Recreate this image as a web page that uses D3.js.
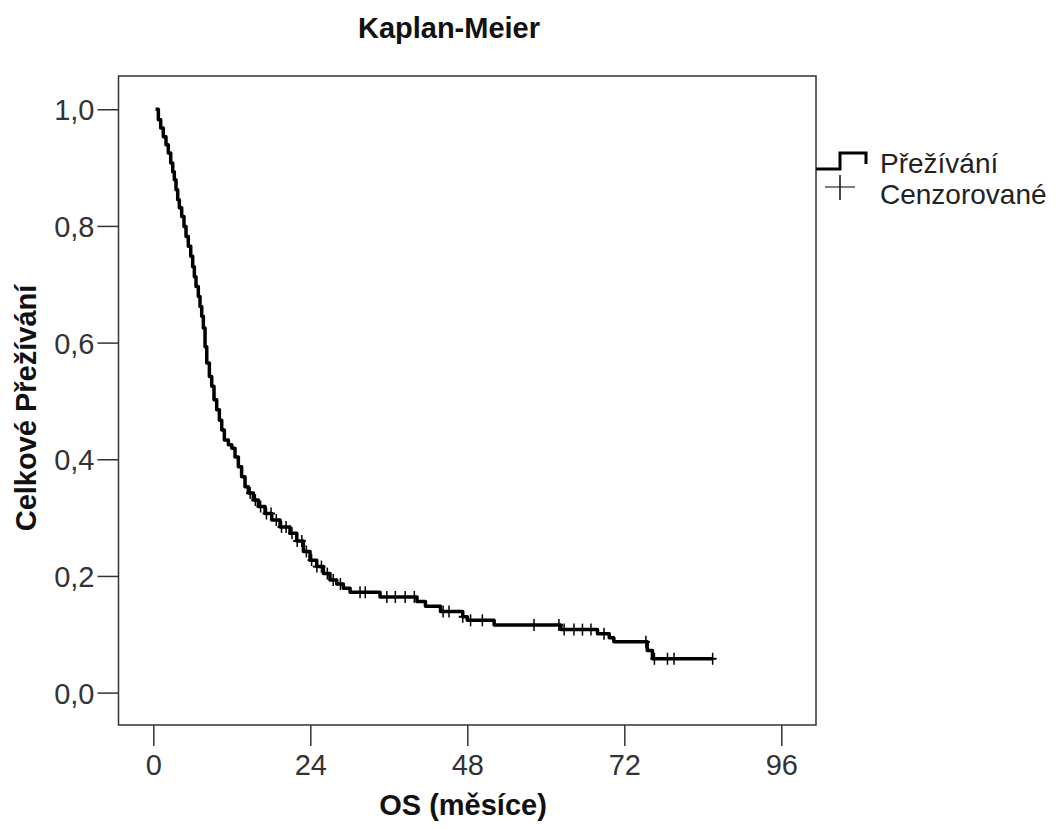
<!DOCTYPE html>
<html>
<head>
<meta charset="utf-8">
<script src="https://cdn.jsdelivr.net/npm/d3@7"></script>
<style>
  body { margin: 0; background: #fff; }
  text { font-family: "Liberation Sans", Arial, sans-serif; }
</style>
</head>
<body>
<script>
// Kaplan-Meier Werte (Monate, Überleben)
var times = [0.35, 0.77, 1.13, 1.53, 1.94, 2.29, 2.66, 2.97, 3.21, 3.47, 3.73, 3.98, 4.34, 4.69, 5.0, 5.35, 5.72, 6.02, 6.27, 6.53,
    6.88, 7.14, 7.4, 7.65, 7.91, 8.17, 8.57, 8.93, 9.28, 9.69, 10.1, 10.46, 10.86, 11.47, 11.99, 12.49, 13.0, 13.5, 14.02, 14.53,
    15.29, 16.06, 17.08, 18.1, 19.37, 20.9, 21.93, 22.94, 23.96, 24.98, 26.0, 27.0, 28.04, 29.05, 30.08, 34.66, 40.3, 41.6, 43.9,
    47.3, 48.0, 52.1, 62.3, 67.9, 69.7, 70.4, 75.5, 76.3, 85.5]
var surv = [1.0, 0.982, 0.968, 0.953, 0.939, 0.925, 0.908, 0.893, 0.879, 0.862, 0.845, 0.831, 0.816, 0.799, 0.782, 0.765, 0.748, 0.73, 0.713, 0.696,
    0.679, 0.662, 0.645, 0.625, 0.593, 0.565, 0.542, 0.525, 0.502, 0.485, 0.467, 0.45, 0.433, 0.425, 0.419, 0.404, 0.387, 0.37, 0.353, 0.342,
    0.33, 0.319, 0.307, 0.296, 0.284, 0.273, 0.26, 0.242, 0.227, 0.216, 0.204, 0.193, 0.186, 0.179, 0.172, 0.164, 0.156, 0.148, 0.139,
    0.13, 0.124, 0.116, 0.108, 0.101, 0.094, 0.087, 0.072, 0.058, 0.058]

// zensierte Fälle
var censored = [14.8, 15.6, 16.4, 17.3, 18.0, 18.8, 19.6, 20.3, 21.2, 22.0, 22.7, 23.4, 24.2, 25.0, 25.7, 26.6, 27.5, 28.6,
    31.6, 32.4, 35.7, 37.0, 38.5, 39.9, 44.3, 45.2, 47.3, 48.5, 50.3, 58.2, 62.0, 62.8, 64.3, 65.6, 66.9, 68.9,
    75.3, 76.6, 78.6, 79.6, 85.5]

var xTicks = [0, 24, 48, 72, 96]
var yTicks = [0, 0.2, 0.4, 0.6, 0.8, 1.0]
var legendLabels = ["Přežívání", "Cenzorované"]

var data = times.map((t, i) => { return {t: t, s: surv[i]} })

const width = 1062
const height = 830
var pLeft = 118.5, pRight = 816, pTop = 76, pBottom = 725

var svg = d3.select("body").append("svg")
    .attr("width", width)
    .attr("height", height)

var x = d3.scaleLinear()
    .domain([-5.32, 101.3])
    .range([pLeft, pRight])

var y = d3.scaleLinear()
    .domain([-0.0555, 1.057])
    .range([pBottom, pTop])

// Rahmen
svg.append("rect")
    .attr("x", pLeft)
    .attr("y", pTop)
    .attr("width", pRight - pLeft)
    .attr("height", pBottom - pTop)
    .attr("fill", "none")
    .attr("stroke", "#333")
    .attr("stroke-width", 1.5)

// x-Achse
var xAxis = svg.append("g")
    .attr("transform", "translate(0," + pBottom + ")")
    .call(d3.axisBottom(x).tickValues(xTicks).tickSize(21).tickPadding(8).tickFormat(d3.format("d")))
xAxis.select(".domain").remove()
xAxis.selectAll("line").attr("stroke", "#333").attr("stroke-width", 1.5)
xAxis.selectAll("text")
    .attr("fill", "#333")
    .style("font-size", "29px")
    .style("font-family", "'Liberation Sans', Arial, sans-serif")

// y-Achse
var yAxis = svg.append("g")
    .attr("transform", "translate(" + pLeft + ",0)")
    .call(d3.axisLeft(y).tickValues(yTicks).tickSize(21).tickPadding(3)
        .tickFormat((d) => { return d3.format(".1f")(d).replace(".", ",") }))
yAxis.select(".domain").remove()
yAxis.selectAll("line").attr("stroke", "#333").attr("stroke-width", 1.5)
yAxis.selectAll("text")
    .attr("fill", "#333")
    .attr("dy", "0.36em")
    .style("font-size", "29px")
    .style("font-family", "'Liberation Sans', Arial, sans-serif")

// Kurve
var line = d3.line()
    .x((d) => { return x(d.t) })
    .y((d) => { return y(d.s) })
    .curve(d3.curveStepAfter)

svg.append("path")
    .datum(data)
    .attr("d", line)
    .attr("fill", "none")
    .attr("stroke", "#000")
    .attr("stroke-width", 3.5)
    .attr("stroke-linejoin", "round")

// Zensierungs-Kreuze
var bisect = d3.bisector((d) => { return d.t }).right
var survAt = (t) => {
    var i = bisect(data, t) - 1
    return data[Math.max(0, i)].s
}

var marks = svg.append("g")
    .selectAll("g")
    .data(censored)
    .enter()
    .append("g")
        .attr("transform", (d) => { return "translate(" + x(d) + "," + y(survAt(d)) + ")" })
marks.append("line")
    .attr("x1", 0).attr("x2", 0).attr("y1", -6).attr("y2", 6)
    .attr("stroke", "#000").attr("stroke-width", 1.5)
marks.append("line")
    .attr("x1", -4).attr("x2", 4).attr("y1", 0).attr("y2", 0)
    .attr("stroke", "#000").attr("stroke-width", 2)

// Titel und Achsentitel
svg.append("text")
    .attr("x", 449)
    .attr("y", 38)
    .attr("text-anchor", "middle")
    .style("font-size", "29px")
    .style("font-weight", "bold")
    .attr("fill", "#111")
    .text("Kaplan-Meier")

svg.append("text")
    .attr("x", 463)
    .attr("y", 815)
    .attr("text-anchor", "middle")
    .style("font-size", "29px")
    .style("font-weight", "bold")
    .attr("fill", "#111")
    .text("OS (měsíce)")

svg.append("text")
    .attr("transform", "translate(36,408) rotate(-90)")
    .attr("text-anchor", "middle")
    .style("font-size", "29px")
    .style("font-weight", "bold")
    .attr("fill", "#111")
    .text("Celkové Přežívání")

// Legende
var legend = svg.append("g")
legend.append("path")
    .attr("d", "M" + pRight + ",169 H840 V153 H866 V164")
    .attr("fill", "none")
    .attr("stroke", "#000")
    .attr("stroke-width", 3)
legend.append("line")
    .attr("x1", 825).attr("x2", 855).attr("y1", 187).attr("y2", 187)
    .attr("stroke", "#555").attr("stroke-width", 1.5)
legend.append("line")
    .attr("x1", 840).attr("x2", 840).attr("y1", 175).attr("y2", 200)
    .attr("stroke", "#111").attr("stroke-width", 1.5)

legend.selectAll("text")
    .data(legendLabels)
    .enter()
    .append("text")
        .attr("x", 880)
        .attr("y", (d, i) => { return 173 + i * 31 })
        .style("font-size", "28px")
        .attr("fill", "#222")
        .text((d) => { return d })
</script>
</body>
</html>
